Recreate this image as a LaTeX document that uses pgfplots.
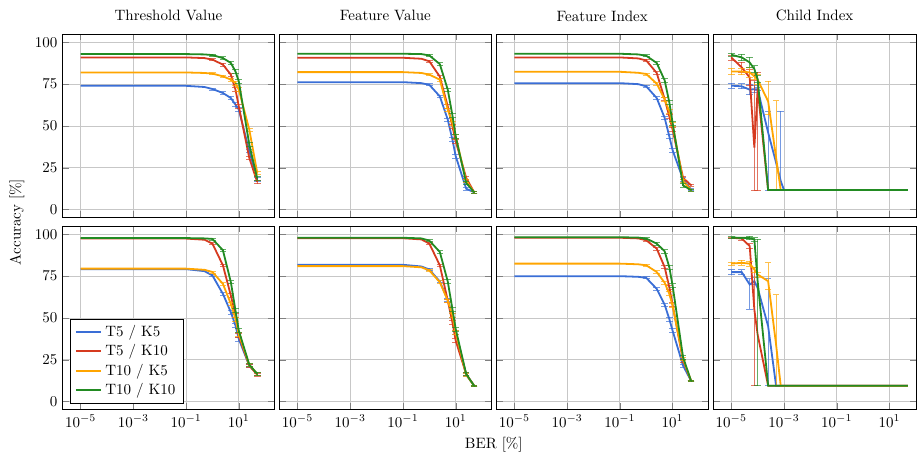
\documentclass[border=0pt]{standalone}
\usepackage{pgfplots}
\pgfplotsset{compat=1.18}
\usepgfplotslibrary{groupplots}
\usetikzlibrary{calc}
\definecolor{cB}{RGB}{58,110,214}
\definecolor{cR}{RGB}{214,58,31}
\definecolor{cO}{RGB}{255,165,0}
\definecolor{cG}{RGB}{34,139,34}
\pgfplotsset{
  eb/.style={line width=1.2pt, no marks, error bars/.cd, y dir=both, y explicit,
    error bar style={line width=0.5pt, opacity=0.7},
    error mark options={rotate=90, mark size=2.2pt, line width=0.5pt, opacity=0.7}},
}
\begin{document}
\begin{tikzpicture}
\begin{groupplot}[
  group style={group size=4 by 2, horizontal sep=3.6pt, vertical sep=5.5pt,
    xticklabels at=edge bottom, yticklabels at=edge left},
  scale only axis, width=141pt, height=122.5pt,
  xmode=log, xmin=2.1e-6, xmax=220,
  ymin=-5, ymax=105, ytick={0,25,50,75,100},
  xtick={1e-5,1e-3,1e-1,1e1}, minor xtick={},
  grid=major, grid style={line width=0.5pt, black!22},
  title style={yshift=-1pt},
]
%% ---------- row 1, col 1: Threshold Value
\nextgroupplot[title={Threshold Value}]
\coordinate (TL) at (rel axis cs:0,1);
\addplot[cB, eb] coordinates {(1e-5,74) (1e-4,74) (1e-3,74) (1e-2,74) (0.1,74) (0.5,73.3) (1,72.1) +- (0,0.6) (2.5,69.7) +- (0,0.8) (5,66.7) +- (0,1) (7.5,62.7) +- (0,1.2) (10,59.8) +- (0,1.2) (25,34.9) +- (0,1) (50,18) +- (0,1)};
\addplot[cR, eb] coordinates {(1e-5,91) (1e-4,91) (1e-3,91) (1e-2,91) (0.1,91) (0.5,90.6) (1,89.7) +- (0,0.6) (2.5,86.7) +- (0,0.8) (5,80.7) +- (0,1) (7.5,71.7) +- (0,1.2) (10,61.7) +- (0,1.2) (25,30.8) +- (0,1) (50,16.5) +- (0,1)};
\addplot[cO, eb] coordinates {(1e-5,82) (1e-4,82) (1e-3,82) (1e-2,82) (0.1,82) (0.5,81.7) (1,81.3) +- (0,0.6) (2.5,79.7) +- (0,0.8) (5,77.7) +- (0,1) (7.5,75.7) +- (0,1.2) (10,71.7) +- (0,1.2) (25,47.8) +- (0,1) (50,22) +- (0,1)};
\addplot[cG, eb] coordinates {(1e-5,93) (1e-4,93) (1e-3,93) (1e-2,93) (0.1,93) (0.5,92.8) (1,92.4) +- (0,0.6) (2.5,90.6) +- (0,0.8) (5,87.7) +- (0,1) (7.5,82.6) +- (0,1.2) (10,76.7) +- (0,1.2) (25,38.9) +- (0,1) (50,18.5) +- (0,1)};
%% ---------- row 1, col 2: Feature Value
\nextgroupplot[title={Feature Value}]
\addplot[cB, eb] coordinates {(1e-5,76.2) (1e-4,76.2) (1e-3,76.2) (1e-2,76.2) (0.1,76.2) (0.5,75.6) (1,74.6) +- (0,0.6) (2.5,67.7) +- (0,0.8) (5,53.8) +- (0,1) (7.5,41.8) +- (0,1.2) (10,31.9) +- (0,1.2) (25,12.4) +- (0,1) (50,10.3) +- (0,0.5)};
\addplot[cR, eb] coordinates {(1e-5,90.8) (1e-4,90.8) (1e-3,90.8) (1e-2,90.8) (0.1,90.8) (0.5,90.2) (1,88.7) +- (0,0.6) (2.5,79.5) +- (0,0.8) (5,61.7) +- (0,1) (7.5,49.8) +- (0,1.2) (10,40.8) +- (0,1.2) (25,18.9) +- (0,1) (50,10.3) +- (0,0.5)};
\addplot[cO, eb] coordinates {(1e-5,82.2) (1e-4,82.2) (1e-3,82.2) (1e-2,82.2) (0.1,82.2) (0.5,81.7) (1,80.7) +- (0,0.6) (2.5,77.7) +- (0,0.8) (5,59.8) +- (0,1) (7.5,51.8) +- (0,1.2) (10,43.8) +- (0,1.2) (25,17) +- (0,1) (50,10.3) +- (0,0.5)};
\addplot[cG, eb] coordinates {(1e-5,93.2) (1e-4,93.2) (1e-3,93.2) (1e-2,93.2) (0.1,93.2) (0.5,93) (1,92.2) +- (0,0.6) (2.5,87) +- (0,0.8) (5,71.7) +- (0,1) (7.5,56.4) +- (0,1.2) (10,43.8) +- (0,1.2) (25,15.9) +- (0,1) (50,10.3) +- (0,0.5)};
%% ---------- row 1, col 3: Feature Index
\nextgroupplot[title={Feature Index}]
\addplot[cB, eb] coordinates {(1e-5,75.6) (1e-4,75.6) (1e-3,75.6) (1e-2,75.6) (0.1,75.6) (0.5,75) (1,73.7) +- (0,0.6) (2.5,66.7) +- (0,0.8) (5,54.8) +- (0,1) (7.5,43.8) +- (0,1.2) (10,35.5) +- (0,1.2) (25,18) +- (0,1) (50,12) +- (0,0.5)};
\addplot[cR, eb] coordinates {(1e-5,91) (1e-4,91) (1e-3,91) (1e-2,91) (0.1,91) (0.5,90.4) (1,89.2) +- (0,0.6) (2.5,81.7) +- (0,0.8) (5,66.1) +- (0,1) (7.5,55.8) +- (0,1.2) (10,47.8) +- (0,1.2) (25,18.9) +- (0,1) (50,14.5) +- (0,0.5)};
\addplot[cO, eb] coordinates {(1e-5,82.4) (1e-4,82.4) (1e-3,82.4) (1e-2,82.4) (0.1,82.4) (0.5,81.8) (1,81.1) +- (0,0.6) (2.5,75.3) +- (0,0.8) (5,65.8) +- (0,1) (7.5,58.8) +- (0,1.2) (10,50.8) +- (0,1.2) (25,17) +- (0,1) (50,11.6) +- (0,0.5)};
\addplot[cG, eb] coordinates {(1e-5,93.2) (1e-4,93.2) (1e-3,93.2) (1e-2,93.2) (0.1,93.2) (0.5,92.8) (1,92) +- (0,0.6) (2.5,87.7) +- (0,0.8) (5,77.3) +- (0,1) (7.5,64.2) +- (0,1.2) (10,51.8) +- (0,1.2) (25,14.4) +- (0,1) (50,11.6) +- (0,0.5)};
%% ---------- row 1, col 4: Child Index
\nextgroupplot[title={Child Index}, width=135pt, xmax=100]
\addplot[cB, eb] coordinates {(1e-5,74.1) +- (0,1.5) (2.5e-5,73.7) +- (0,1.5) (5e-5,71.7) +- (0,3) (7.5e-5,72) +- (0,2) (1e-4,72) +- (0,1) (2.5e-4,46) += (0,12.7) -= (0,34.4) (5e-4,28) (7.5e-4,17) += (0,42) -= (0,5.4) (1e-3,11.6) (1e-2,11.6) (0.1,11.6) (1,11.6) (10,11.6) (50,11.6)};
\addplot[cR, eb] coordinates {(1e-5,91) +- (0,1.5) (2.5e-5,85) +- (0,3) (5e-5,79) +- (0,5) (7.5e-5,37) += (0,40) -= (0,25.4) (1e-4,72) += (0,10) -= (0,60.4) (2.5e-4,11.6) (5e-4,11.6) (7.5e-4,11.6) (1e-3,11.6) (1e-2,11.6) (0.1,11.6) (1,11.6) (10,11.6) (50,11.6)};
\addplot[cO, eb] coordinates {(1e-5,82.6) +- (0,2) (2.5e-5,82.6) +- (0,2) (5e-5,82) +- (0,3) (7.5e-5,79.7) +- (0,2) (1e-4,77.7) +- (0,3) (2.5e-4,64.7) += (0,12) -= (0,8) (5e-4,31) += (0,34) -= (0,19.4) (7.5e-4,11.6) (1e-3,11.6) (1e-2,11.6) (0.1,11.6) (1,11.6) (10,11.6) (50,11.6)};
\addplot[cG, eb] coordinates {(1e-5,92.6) +- (0,1) (2.5e-5,91) +- (0,2) (5e-5,88) +- (0,3) (7.5e-5,84) +- (0,2) (1e-4,78) +- (0,2) (2.5e-4,11.6) (5e-4,11.6) (7.5e-4,11.6) (1e-3,11.6) (1e-2,11.6) (0.1,11.6) (1,11.6) (10,11.6) (50,11.6)};
%% ---------- row 2, col 1
\nextgroupplot[legend style={at={(0.035,0.035)}, anchor=south west, cells={anchor=west}}]
\addplot[cB, eb] coordinates {(1e-5,79.2) (1e-4,79.2) (1e-3,79.2) (1e-2,79.2) (0.1,79.2) (0.5,78) (1,75.4) +- (0,0.6) (2.5,64.4) +- (0,0.8) (5,53.4) +- (0,1) (7.5,45.4) +- (0,1.2) (10,37.4) +- (0,1.2) (25,21.4) +- (0,1) (50,16.5) +- (0,1)};
\addplot[cR, eb] coordinates {(1e-5,97.5) (1e-4,97.5) (1e-3,97.5) (1e-2,97.5) (0.1,97.5) (0.5,96.8) (1,94.5) +- (0,0.6) (2.5,81.5) +- (0,0.8) (5,63.4) +- (0,1) (7.5,51.5) +- (0,1.2) (10,39.4) +- (0,1.2) (25,21.4) +- (0,1) (50,16) +- (0,1)};
\addplot[cO, eb] coordinates {(1e-5,79.5) (1e-4,79.5) (1e-3,79.5) (1e-2,79.5) (0.1,79.5) (0.5,78.8) (1,77.5) +- (0,0.6) (2.5,70.4) +- (0,0.8) (5,58.4) +- (0,1) (7.5,49.4) +- (0,1.2) (10,40.4) +- (0,1.2) (25,22) +- (0,1) (50,16.5) +- (0,1)};
\addplot[cG, eb] coordinates {(1e-5,97.8) (1e-4,97.8) (1e-3,97.8) (1e-2,97.8) (0.1,97.8) (0.5,97.6) (1,97.3) +- (0,0.6) (2.5,90.5) +- (0,0.8) (5,71.4) +- (0,1) (7.5,54.4) +- (0,1.2) (10,42.4) +- (0,1.2) (25,22) +- (0,1) (50,16.5) +- (0,1)};
\legend{T5 / K5, T5 / K10, T10 / K5, T10 / K10}
%% ---------- row 2, col 2
\nextgroupplot
\addplot[cB, eb] coordinates {(1e-5,81.8) (1e-4,81.8) (1e-3,81.8) (1e-2,81.8) (0.1,81.8) (0.5,80.8) (1,79) +- (0,0.6) (2.5,71.8) +- (0,0.8) (5,60.8) +- (0,1) (7.5,51.5) +- (0,1.2) (10,41.4) +- (0,1.2) (25,16) +- (0,1) (50,9.4) +- (0,0.5)};
\addplot[cR, eb] coordinates {(1e-5,97.7) (1e-4,97.7) (1e-3,97.7) (1e-2,97.7) (0.1,97.7) (0.5,97) (1,94.5) +- (0,0.6) (2.5,81.5) +- (0,0.8) (5,60.4) +- (0,1) (7.5,47.4) +- (0,1.2) (10,36.4) +- (0,1.2) (25,16.4) +- (0,1) (50,9.4) +- (0,0.5)};
\addplot[cO, eb] coordinates {(1e-5,81) (1e-4,81) (1e-3,81) (1e-2,81) (0.1,81) (0.5,80.3) (1,78.4) +- (0,0.6) (2.5,71.4) +- (0,0.8) (5,60.4) +- (0,1) (7.5,51.5) +- (0,1.2) (10,41.4) +- (0,1.2) (25,16) +- (0,1) (50,9.4) +- (0,0.5)};
\addplot[cG, eb] coordinates {(1e-5,98) (1e-4,98) (1e-3,98) (1e-2,98) (0.1,98) (0.5,97.6) (1,96.3) +- (0,0.6) (2.5,89.5) +- (0,0.8) (5,71.8) +- (0,1) (7.5,55.4) +- (0,1.2) (10,43.4) +- (0,1.2) (25,16.4) +- (0,1) (50,9.4) +- (0,0.5)};
%% ---------- row 2, col 3
\nextgroupplot
\addplot[cB, eb] coordinates {(1e-5,75) (1e-4,75) (1e-3,75) (1e-2,75) (0.1,75) (0.5,74.6) (1,74) +- (0,0.6) (2.5,67.4) +- (0,0.8) (5,57.9) +- (0,1) (7.5,49.4) +- (0,1.2) (10,42.4) +- (0,1.2) (25,21.4) +- (0,1) (50,12.4) +- (0,0.5)};
\addplot[cR, eb] coordinates {(1e-5,98) (1e-4,98) (1e-3,98) (1e-2,98) (0.1,98) (0.5,97.6) (1,96.5) +- (0,0.6) (2.5,91.5) +- (0,0.8) (5,80.4) +- (0,1) (7.5,68.4) +- (0,1.2) (10,57.9) +- (0,1.2) (25,24.4) +- (0,1) (50,12.4) +- (0,0.5)};
\addplot[cO, eb] coordinates {(1e-5,82.5) (1e-4,82.5) (1e-3,82.5) (1e-2,82.5) (0.1,82.5) (0.5,82.1) (1,81.5) +- (0,0.6) (2.5,77.5) +- (0,0.8) (5,71.1) +- (0,1) (7.5,64.4) +- (0,1.2) (10,57.4) +- (0,1.2) (25,25.4) +- (0,1) (50,12.4) +- (0,0.5)};
\addplot[cG, eb] coordinates {(1e-5,98.3) (1e-4,98.3) (1e-3,98.3) (1e-2,98.3) (0.1,98.3) (0.5,98.1) (1,97.5) +- (0,0.6) (2.5,94.5) +- (0,0.8) (5,89.9) +- (0,1) (7.5,80.4) +- (0,1.2) (10,69.4) +- (0,1.2) (25,26.4) +- (0,1) (50,12.4) +- (0,0.5)};
%% ---------- row 2, col 4
\nextgroupplot[width=135pt, xmax=100]
\addplot[cB, eb] coordinates {(1e-5,77.4) +- (0,1.5) (2.5e-5,77.4) +- (0,1.5) (5e-5,70) += (0,3.4) -= (0,14.6) (7.5e-5,72) +- (0,2) (1e-4,68) (2.5e-4,45) += (0,28.4) -= (0,35.6) (5e-4,9.4) (7.5e-4,9.4) (1e-3,9.4) (1e-2,9.4) (0.1,9.4) (1,9.4) (10,9.4) (50,9.4)};
\addplot[cR, eb] coordinates {(1e-5,98) +- (0,0.5) (2.5e-5,97.5) +- (0,1) (5e-5,93) +- (0,1.5) (7.5e-5,55) += (0,25) -= (0,45.6) (1e-4,40) (2.5e-4,9.4) (5e-4,9.4) (7.5e-4,9.4) (1e-3,9.4) (1e-2,9.4) (0.1,9.4) (1,9.4) (10,9.4) (50,9.4)};
\addplot[cO, eb] coordinates {(1e-5,82.5) +- (0,1) (2.5e-5,83) +- (0,1.5) (5e-5,82.5) +- (0,1.5) (7.5e-5,79) +- (0,1.5) (1e-4,76) +- (0,1.5) (2.5e-4,72) += (0,11) -= (0,5) (5e-4,34) += (0,30) -= (0,24.6) (7.5e-4,9.4) (1e-3,9.4) (1e-2,9.4) (0.1,9.4) (1,9.4) (10,9.4) (50,9.4)};
\addplot[cG, eb] coordinates {(1e-5,98.1) +- (0,0.5) (2.5e-5,98) +- (0,0.5) (5e-5,97.8) +- (0,1) (7.5e-5,97) +- (0,1) (1e-4,72) += (0,25) -= (0,62.6) (2.5e-4,9.4) (5e-4,9.4) (7.5e-4,9.4) (1e-3,9.4) (1e-2,9.4) (0.1,9.4) (1,9.4) (10,9.4) (50,9.4)};
\end{groupplot}
\node[rotate=90] at ($(TL)+(-30.5pt,-125.3pt)$) {Accuracy [\%]};
\node at ($(TL)+(287.4pt,-274pt)$) {BER [\%]};
\pgfresetboundingbox
\path ($(TL)+(-41.8pt,22.7pt)$) rectangle ($(TL)+(570.2pt,-281.3pt)$);
\end{tikzpicture}
\end{document}
